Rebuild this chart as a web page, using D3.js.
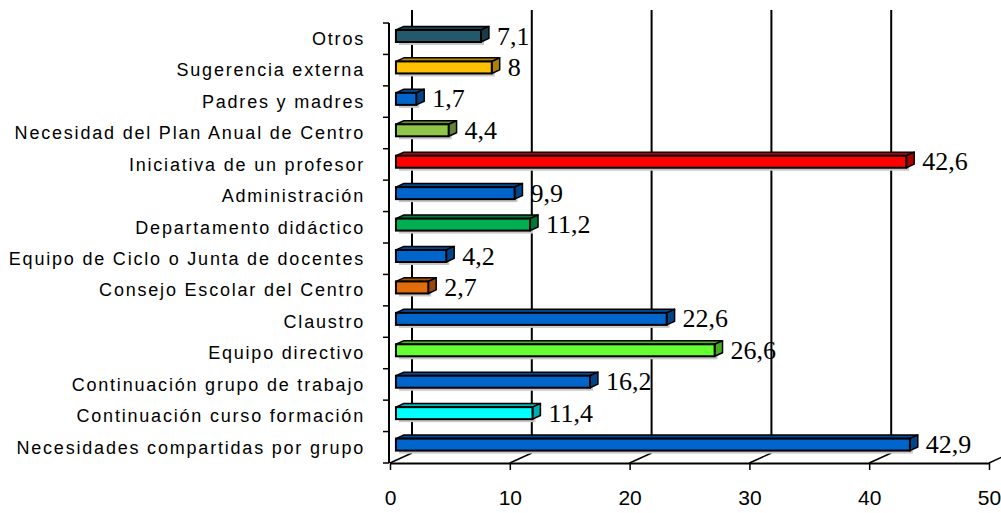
<!DOCTYPE html>
<html>
<head>
<meta charset="utf-8">
<script src="https://cdn.jsdelivr.net/npm/d3@7"></script>
<style>
  body { margin: 0; background: #fff; }
  svg { display: block; }
</style>
</head>
<body>
<div id="chart"></div>
<script>
// categories from top to bottom
const categories = [
  "Otros",
  "Sugerencia externa",
  "Padres y madres",
  "Necesidad del Plan Anual de Centro",
  "Iniciativa de un profesor",
  "Administración",
  "Departamento didáctico",
  "Equipo de Ciclo o Junta de docentes",
  "Consejo Escolar del Centro",
  "Claustro",
  "Equipo directivo",
  "Continuación grupo de trabajo",
  "Continuación curso formación",
  "Necesidades compartidas por grupo"
];
const values = [7.1, 8, 1.7, 4.4, 42.6, 9.9, 11.2, 4.2, 2.7, 22.6, 26.6, 16.2, 11.4, 42.9];
const colors = [
  "#235a6b", "#ffc000", "#0066cc", "#8fc64a", "#ff0000", "#0066cc", "#00b050",
  "#0066cc", "#e36c0a", "#0066cc", "#66ff33", "#0066cc", "#00ffff", "#0066cc"
];
const xTicks = [0, 10, 20, 30, 40, 50];

const width = 1001, height = 513;
// 3d offsets: depth of the wall and of the bars
const DX = 22, DY = -10;
const barFront = 0.27, barBack = 0.63;
const barH = 12;

const svg = d3.select("#chart").append("svg")
  .attr("width", width)
  .attr("height", height);

const x = d3.scaleLinear().domain([0, 50]).range([390, 989]);
const y = d3.scaleBand().domain(categories).range([23, 463]);

// back wall gridlines
svg.append("g").selectAll("line")
  .data(xTicks.slice(0, 5))
  .join("line")
  .attr("x1", d => x(d) + DX).attr("x2", d => x(d) + DX)
  .attr("y1", 10).attr("y2", 463 + DY)
  .attr("stroke", "#000").attr("stroke-width", 2);

// floor slants
svg.append("g").selectAll("line")
  .data(xTicks)
  .join("line")
  .attr("x1", d => x(d)).attr("x2", d => x(d) + DX)
  .attr("y1", 463).attr("y2", 463 + DY)
  .attr("stroke", "#000").attr("stroke-width", 1.5);

// bars
const data = categories.map((c, i) => ({ cat: c, v: values[i], color: colors[i] }));

const bars = svg.append("g").selectAll("g")
  .data(data)
  .join("g");

function face(d) {
  const fx0 = x(0) + barFront * DX, fx1 = x(d.v) + barFront * DX;
  const yc = y(d.cat) + y.bandwidth() / 2 + barFront * DY;
  const bdx = (barBack - barFront) * DX, bdy = (barBack - barFront) * DY;
  return { fx0, fx1, top: yc - barH / 2, bot: yc + barH / 2, bdx, bdy, yc };
}

// shadow
bars.append("rect")
  .attr("x", d => face(d).fx0 + 3)
  .attr("y", d => face(d).top + 3)
  .attr("width", d => face(d).fx1 - face(d).fx0)
  .attr("height", barH)
  .attr("fill", "#c8c8c8");

// top face
bars.append("path")
  .attr("d", d => {
    const f = face(d);
    return `M${f.fx0},${f.top}L${f.fx0 + f.bdx},${f.top + f.bdy}L${f.fx1 + f.bdx},${f.top + f.bdy}L${f.fx1},${f.top}Z`;
  })
  .attr("fill", d => d3.color(d.color).darker(0.9))
  .attr("stroke", "#000").attr("stroke-width", 1.5).attr("stroke-linejoin", "round");

// side face
bars.append("path")
  .attr("d", d => {
    const f = face(d);
    return `M${f.fx1},${f.top}L${f.fx1 + f.bdx},${f.top + f.bdy}L${f.fx1 + f.bdx},${f.bot + f.bdy}L${f.fx1},${f.bot}Z`;
  })
  .attr("fill", d => d3.color(d.color).darker(1.1))
  .attr("stroke", "#000").attr("stroke-width", 1.5).attr("stroke-linejoin", "round");

// front face
bars.append("rect")
  .attr("x", d => face(d).fx0)
  .attr("y", d => face(d).top)
  .attr("width", d => face(d).fx1 - face(d).fx0)
  .attr("height", barH)
  .attr("fill", d => d.color)
  .attr("stroke", "#000").attr("stroke-width", 2);

// value labels
bars.append("text")
  .attr("x", d => { const f = face(d); return f.fx1 + f.bdx + 8; })
  .attr("y", d => face(d).yc + 8.5)
  .attr("font-family", "'Liberation Serif', 'Times New Roman', serif")
  .attr("font-size", 26)
  .attr("fill", "#000")
  .text(d => String(d.v).replace(".", ","));

// bottom axis
const xAxis = svg.append("g")
  .attr("transform", "translate(0,463)")
  .call(d3.axisBottom(x).tickValues(xTicks).tickSize(7).tickSizeOuter(0).tickPadding(20));
xAxis.select(".domain").attr("stroke", "#000").attr("stroke-width", 2);
xAxis.selectAll(".tick line").attr("stroke", "#000").attr("stroke-width", 1.5);
xAxis.selectAll(".tick text")
  .attr("font-family", "'Liberation Sans', Arial, sans-serif")
  .attr("font-size", 21)
  .attr("fill", "#000");

// left axis line with ticks at band edges
svg.append("line")
  .attr("x1", 389).attr("x2", 389)
  .attr("y1", y.range()[0]).attr("y2", y.range()[1])
  .attr("stroke", "#000").attr("stroke-width", 2);
svg.append("g").selectAll("line")
  .data(d3.range(categories.length + 1))
  .join("line")
  .attr("x1", 383).attr("x2", 389)
  .attr("y1", i => y.range()[0] + i * y.step())
  .attr("y2", i => y.range()[0] + i * y.step())
  .attr("stroke", "#000").attr("stroke-width", 1.5);

// category labels
svg.append("g").selectAll("text")
  .data(categories)
  .join("text")
  .attr("x", 365)
  .attr("y", d => y(d) + y.bandwidth() / 2)
  .attr("dy", "0.35em")
  .attr("text-anchor", "end")
  .attr("font-family", "'Liberation Sans', Arial, sans-serif")
  .attr("font-size", 18)
  .attr("letter-spacing", 1.8)
  .attr("fill", "#000")
  .text(d => d);
</script>
</body>
</html>
